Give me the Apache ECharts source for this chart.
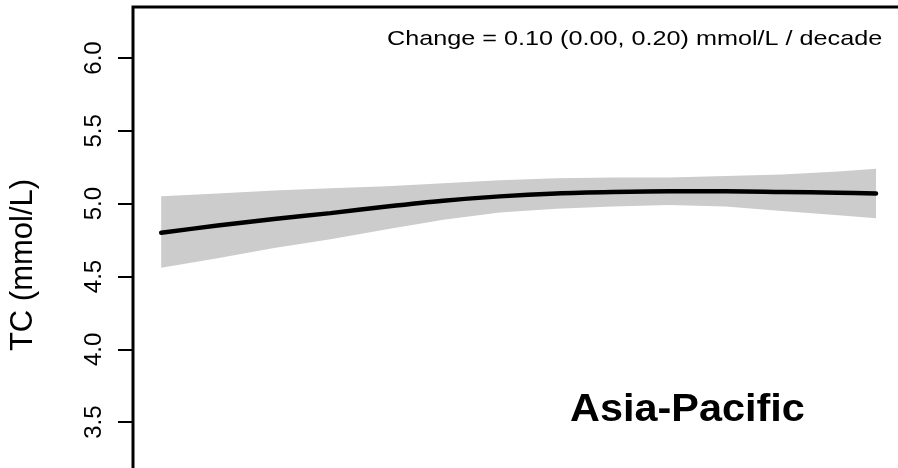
<!DOCTYPE html>
<html>
<head>
<meta charset="utf-8">
<script src="https://cdn.jsdelivr.net/npm/echarts@6/dist/echarts.min.js"></script>
<style>
html,body{margin:0;padding:0;background:#fff;}
#chart{width:898px;height:468px;}
</style>
</head>
<body>
<div id="chart"></div>
<script>
// Data
var years = [1980, 1983, 1986, 1989, 1992, 1995, 1998, 2001, 2004, 2007, 2010, 2013, 2016, 2018];
var meanTC = [4.80, 4.85, 4.895, 4.935, 4.98, 5.02, 5.05, 5.07, 5.08, 5.085, 5.085, 5.08, 5.075, 5.07];
var upperCI = [5.05, 5.07, 5.09, 5.105, 5.12, 5.14, 5.16, 5.175, 5.18, 5.18, 5.19, 5.20, 5.22, 5.24];
var lowerCI = [4.56, 4.625, 4.695, 4.755, 4.825, 4.89, 4.94, 4.965, 4.98, 4.99, 4.98, 4.95, 4.92, 4.90];
var yTickValues = [3.5, 4.0, 4.5, 5.0, 5.5, 6.0];
var yTickLabels = ["3.5", "4.0", "4.5", "5.0", "5.5", "6.0"];
var yAxisTitle = "TC (mmol/L)";
var changeText = "Change = 0.10 (0.00, 0.20) mmol/L / decade";
var regionText = "Asia-Pacific";

var font = "'Liberation Sans', Arial, Helvetica, sans-serif";

function pairs(xs, ys) { return xs.map(function (x, i) { return [x, ys[i]]; }); }

var chart = echarts.init(document.getElementById('chart'), null, {renderer: 'canvas'});
chart.setOption({
  animation: false,
  backgroundColor: '#ffffff',
  grid: {
    left: 133, top: 7, width: 775, height: 488,
    outerBoundsMode: 'none', containLabel: false,
    show: true, borderColor: '#000000', borderWidth: 3, backgroundColor: 'transparent'
  },
  xAxis: {
    type: 'value', min: 1978.5, max: 2019.7,
    show: false, splitLine: {show: false}
  },
  yAxis: {
    type: 'value', min: 3.0, max: 6.35,
    axisLine: {show: false},
    splitLine: {show: false},
    axisTick: {show: true, length: 15, lineStyle: {color: '#000', width: 2}, customValues: yTickValues},
    axisLabel: {
      rotate: 90, margin: 27, fontSize: 24, color: '#000', fontFamily: font,
      customValues: yTickValues,
      formatter: function (v) { var i = yTickValues.indexOf(v); return i >= 0 ? yTickLabels[i] : ''; }
    },
    name: yAxisTitle, nameLocation: 'middle', nameRotate: 90, nameGap: 94,
    nameTextStyle: {fontSize: 31, color: '#000', fontFamily: font, padding: [0, 28, 0, 0]}
  },
  series: [
    {
      type: 'custom', name: 'band', silent: true, z: 1,
      data: [[years[0], lowerCI[0]]],
      renderItem: function (params, api) {
        var pts = [];
        for (var i = 0; i < years.length; i++) pts.push(api.coord([years[i], upperCI[i]]));
        for (var j = years.length - 1; j >= 0; j--) pts.push(api.coord([years[j], lowerCI[j]]));
        return {type: 'polygon', shape: {points: pts}, style: {fill: '#cccccc', stroke: null}};
      }
    },
    {
      type: 'line', name: 'mean', data: pairs(years, meanTC), smooth: 0.3, z: 3,
      symbol: 'none', lineStyle: {color: '#000000', width: 4.5, cap: 'round'}
    }
  ],
  graphic: [
    {
      type: 'text', x: 387, y: 39, scaleX: 1.2, scaleY: 1,
      style: {text: changeText, fontSize: 21, fontFamily: font, fill: '#000', verticalAlign: 'middle', align: 'left'}
    },
    {
      type: 'text', x: 570, y: 411, scaleX: 1.09, scaleY: 1,
      style: {text: regionText, fontSize: 38, fontWeight: 'bold', fontFamily: font, fill: '#000', verticalAlign: 'middle', align: 'left'}
    }
  ]
});
</script>
</body>
</html>
